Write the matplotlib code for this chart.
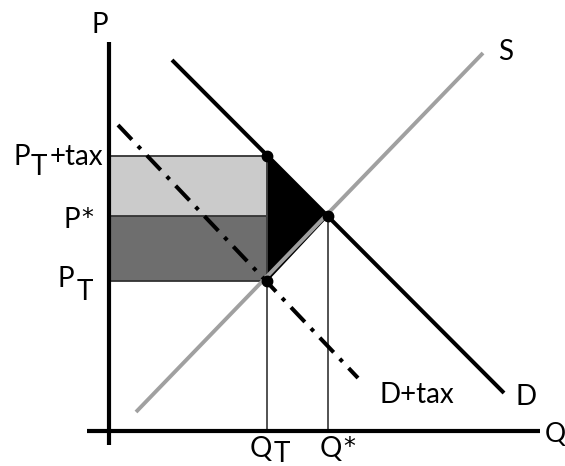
import matplotlib.pyplot as plt
import numpy as np
from matplotlib.patches import Polygon

plt.rcParams['font.family'] = ['Lato', 'DejaVu Sans']

# quantities and prices (arbitrary units)
q_t = 15.8
q_star = 21.9
p_t = 15.0
p_star = 21.5
p_t_tax = 27.5

# curve end points (Q, P)
supply_q = [2.7, 37.4]
supply_p = [1.9, 37.8]
demand_q = [6.3, 39.5]
demand_p = [37.1, 3.8]
dtax_q = [0.9, 24.9]
dtax_p = [30.6, 5.3]

# axis extents
q_axis = [-2.2, 43.1]
p_axis = [-1.4, 38.9]

fig = plt.figure(figsize=(5.65, 4.66), dpi=100)
ax = fig.add_axes([0, 0, 1, 1])
ax.set_xlim(-10.9, 45.6)
ax.set_ylim(-3.5, 43.1)
ax.axis('off')

# shaded areas
ax.fill_between([0, q_t], p_star, p_t_tax, color='#cbcbcb', lw=0, zorder=1)
ax.fill_between([0, q_t], p_t, p_star, color='#6e6e6e', lw=0, zorder=1)
ax.add_patch(Polygon([[q_t, p_t_tax], [q_star, p_star], [q_t, p_t]],
                     closed=True, facecolor='black', edgecolor='black', lw=1, zorder=2))

# guide lines
for p in [p_t_tax, p_star, p_t]:
    ax.plot([0, q_t], [p, p], color='#333333', lw=1.3, zorder=3)
ax.plot([q_t, q_t], [0, p_t_tax], color='#444444', lw=1.3, zorder=3)
ax.plot([q_star, q_star], [0, p_star], color='#444444', lw=1.3, zorder=3)

# curves
ax.plot(supply_q, supply_p, color='#a0a0a0', lw=2.8, solid_capstyle='butt', zorder=4)
ax.plot(demand_q, demand_p, color='black', lw=2.9, solid_capstyle='butt', zorder=5)
ax.plot(dtax_q, dtax_p, color='black', lw=2.9, dashes=(5, 2.2, 1, 2.2),
        dash_capstyle='butt', zorder=5)

# points
ax.plot([q_t, q_star, q_t], [p_t_tax, p_star, p_t], 'o', color='black',
        markersize=7.5, zorder=6)

# axes
ax.plot(q_axis, [0, 0], color='black', lw=3, solid_capstyle='butt', zorder=7)
ax.plot([0, 0], p_axis, color='black', lw=3, solid_capstyle='butt', zorder=7)

# labels
fs = 20
kw = dict(fontsize=fs, ha='left', va='baseline', color='black')
star = dict(fontsize=17, ha='left', va='baseline', color='black', family='DejaVu Sans')
ax.text(-1.7, 39.8, 'P', **kw)
ax.text(43.6, -1.1, 'Q', fontsize=19, ha='left', va='baseline')
ax.text(38.9, 37.1, 'S', **kw)
ax.text(40.7, 2.6, 'D', **kw)
ax.text(27.1, 2.8, 'D+tax', **kw)
ax.text(-9.6, 26.6, 'P', **kw)
ax.text(-7.8, 25.6, 'T', **kw)
ax.text(-5.9, 26.6, '+tax', **kw)
ax.text(-4.6, 20.3, 'P', **kw)
ax.text(-2.8, 20.6, '*', **star)
ax.text(-5.2, 14.4, 'P', **kw)
ax.text(-3.2, 13.1, 'T', **kw)
ax.text(14.1, -2.6, 'Q', **kw)
ax.text(16.5, -3.1, 'T', **kw)
ax.text(21.1, -2.6, 'Q', **kw)
ax.text(23.4, -2.3, '*', **star)

fig.savefig('out.png', dpi=100)
